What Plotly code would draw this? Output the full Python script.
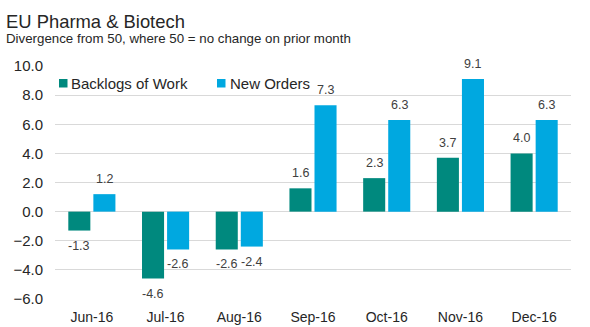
import plotly.graph_objects as go

categories = ["Jun-16", "Jul-16", "Aug-16", "Sep-16", "Oct-16", "Nov-16", "Dec-16"]
backlogs = [-1.3, -4.6, -2.6, 1.6, 2.3, 3.7, 4.0]
new_orders = [1.2, -2.6, -2.4, 7.3, 6.3, 9.1, 6.3]
series_names = ["Backlogs of Work", "New Orders"]

TEAL = "#00897e"
BLUE = "#00a8e0"
FONT = "Liberation Sans, Arial, sans-serif"
TXT = "#262626"

L, R, T, B = 55, 19, 66, 28
W, H = 590, 327
ph = H - T - B
pw = W - L - R


def py(ypx):
    return (H - B - ypx) / ph


def px(xpx):
    return (xpx - L) / pw


fig = go.Figure()
annotations = []
series = [(series_names[0], backlogs, TEAL, -12.5), (series_names[1], new_orders, BLUE, 12.5)]
for name, vals, col, xs in series:
    fig.add_trace(go.Bar(
        x=categories, y=vals, name=name, marker=dict(color=col, line=dict(width=0)),
        showlegend=False,
    ))
    for c, v in zip(categories, vals):
        annotations.append(dict(
            x=c, y=v, xref="x", yref="y", text=f"{v:.1f}", showarrow=False,
            xshift=xs, yshift=6 if v >= 0 else -6,
            yanchor="bottom" if v >= 0 else "top", xanchor="center",
            font=dict(size=12.5, color="#404040"),
        ))

# legend (manual, to match the compact square swatches)
shapes = []
leg = [(series_names[0], TEAL, 59, 70), (series_names[1], BLUE, 217, 229)]
for name, col, sx, tx in leg:
    shapes.append(dict(type="rect", xref="paper", yref="paper",
                       x0=px(sx), x1=px(sx + 8.5), y0=py(87.5), y1=py(79),
                       fillcolor=col, line=dict(width=0)))
    annotations.append(dict(text=name, xref="paper", yref="paper", x=px(tx - 1), y=py(83.5),
                            xanchor="left", yanchor="middle", showarrow=False,
                            font=dict(size=15, color=TXT)))

annotations += [
    dict(text="EU Pharma & Biotech", xref="paper", yref="paper", x=px(4), y=py(22),
         xanchor="left", yanchor="middle", showarrow=False, font=dict(size=18.4, color=TXT)),
    dict(text="Divergence from 50, where 50 = no change on prior month", xref="paper", yref="paper",
         x=px(4), y=py(38.5), xanchor="left", yanchor="middle", showarrow=False,
         font=dict(size=13.3, color=TXT)),
]

fig.update_layout(
    width=W, height=H,
    margin=dict(l=L, r=R, t=T, b=B, autoexpand=False),
    paper_bgcolor="white", plot_bgcolor="white",
    font=dict(family=FONT, color=TXT),
    barmode="group", bargap=0.32, bargroupgap=0.12,
    showlegend=False,
    xaxis=dict(showgrid=False, showline=False, ticks="", tickfont=dict(size=14, color=TXT),
               ticklabelstandoff=8, automargin=False),
    yaxis=dict(range=[-6, 10], dtick=2, tickformat=".1f", showgrid=True, gridcolor="#d9d9d9",
               zeroline=True, zerolinecolor="#d9d9d9", zerolinewidth=1, showline=False,
               tickfont=dict(size=15, color=TXT), ticklabelstandoff=11, automargin=False),
    annotations=annotations,
    shapes=shapes,
)

fig.write_html("out.html")
